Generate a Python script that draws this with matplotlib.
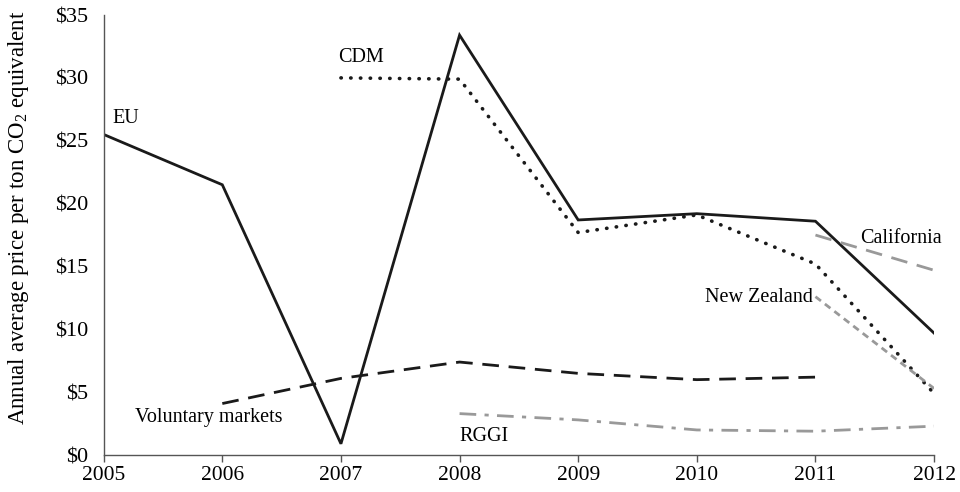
import matplotlib
matplotlib.use("Agg")
import matplotlib.pyplot as plt

years = [2005, 2006, 2007, 2008, 2009, 2010, 2011, 2012]
eu_years = [2005, 2006, 2007, 2008, 2009, 2010, 2011, 2012]
eu = [25.5, 21.5, 0.9, 33.4, 18.7, 19.2, 18.6, 9.7]
cdm_years = [2007, 2008, 2009, 2010, 2011, 2012]
cdm = [30.0, 29.9, 17.7, 19.1, 15.2, 4.9]
cal_years = [2011, 2012]
cal = [17.5, 14.7]
nz_years = [2011, 2012]
nz = [12.6, 5.3]
vol_years = [2006, 2007, 2008, 2009, 2010, 2011]
vol = [4.1, 6.1, 7.4, 6.5, 6.0, 6.2]
rggi_years = [2008, 2009, 2010, 2011, 2012]
rggi = [3.3, 2.8, 2.0, 1.9, 2.3]
yticks = [0, 5, 10, 15, 20, 25, 30, 35]
ytick_labels = ["$0", "$5", "$10", "$15", "$20", "$25", "$30", "$35"]

plt.rcParams['font.family'] = ['Liberation Serif', 'DejaVu Serif']
plt.rcParams['mathtext.fontset'] = 'custom'
plt.rcParams['mathtext.rm'] = 'Liberation Serif'
plt.rcParams['mathtext.it'] = 'Liberation Serif:italic'

fig = plt.figure(figsize=(9.6, 4.92), dpi=100)
ax = fig.add_axes([0.108, 0.075, 0.865, 0.8945])

ax.plot(eu_years, eu, color='#1a1a1a', lw=2.0, solid_joinstyle='miter')
ax.plot(cdm_years, cdm, color='#1a1a1a', lw=2.6, linestyle=(0, (0.1, 2.6)), dash_capstyle='round')
ax.plot(cal_years, cal, color='#999999', lw=2.0, linestyle=(0, (6, 3.5)))
ax.plot(nz_years, nz, color='#999999', lw=2.0, linestyle=(0, (2.5, 1.8)))
ax.plot(vol_years, vol, color='#1a1a1a', lw=2.0, linestyle=(0, (6, 3.5)))
ax.plot(rggi_years, rggi, color='#999999', lw=2.0, linestyle=(0, (6, 3, 1.5, 3)))

fs = 14.5
ax.text(2005.07, 26.0, "EU", fontsize=fs, ha='left', va='bottom')
ax.text(2006.98, 30.9, "CDM", fontsize=fs, ha='left', va='bottom')
ax.text(2011.38, 17.2, "California", fontsize=fs, ha='left', va='center')
ax.text(2010.98, 12.5, "New Zealand", fontsize=fs, ha='right', va='center')
ax.text(2005.26, 3.0, "Voluntary markets", fontsize=fs, ha='left', va='center')
ax.text(2008.0, 1.45, "RGGI", fontsize=fs, ha='left', va='center')

ax.set_xlim(2005, 2012)
ax.set_ylim(0, 35)
ax.set_xticks(years)
ax.set_xticklabels([str(y) for y in years], fontsize=15.5)
ax.set_yticks(yticks)
ax.set_yticklabels(ytick_labels, fontsize=16)
ax.tick_params(axis='y', length=0, pad=11)
ax.tick_params(axis='x', direction='out', length=5, width=1, color='#555555', pad=3)
for s in ['top', 'right']:
    ax.spines[s].set_visible(False)
for s in ['left', 'bottom']:
    ax.spines[s].set_color('#555555')
    ax.spines[s].set_linewidth(1.0)
ax.set_ylabel(r"Annual average price per ton CO$_2$ equivalent", fontsize=16.5)
ax.yaxis.set_label_coords(-0.087, 0.54)

fig.savefig("out.png", dpi=100)
